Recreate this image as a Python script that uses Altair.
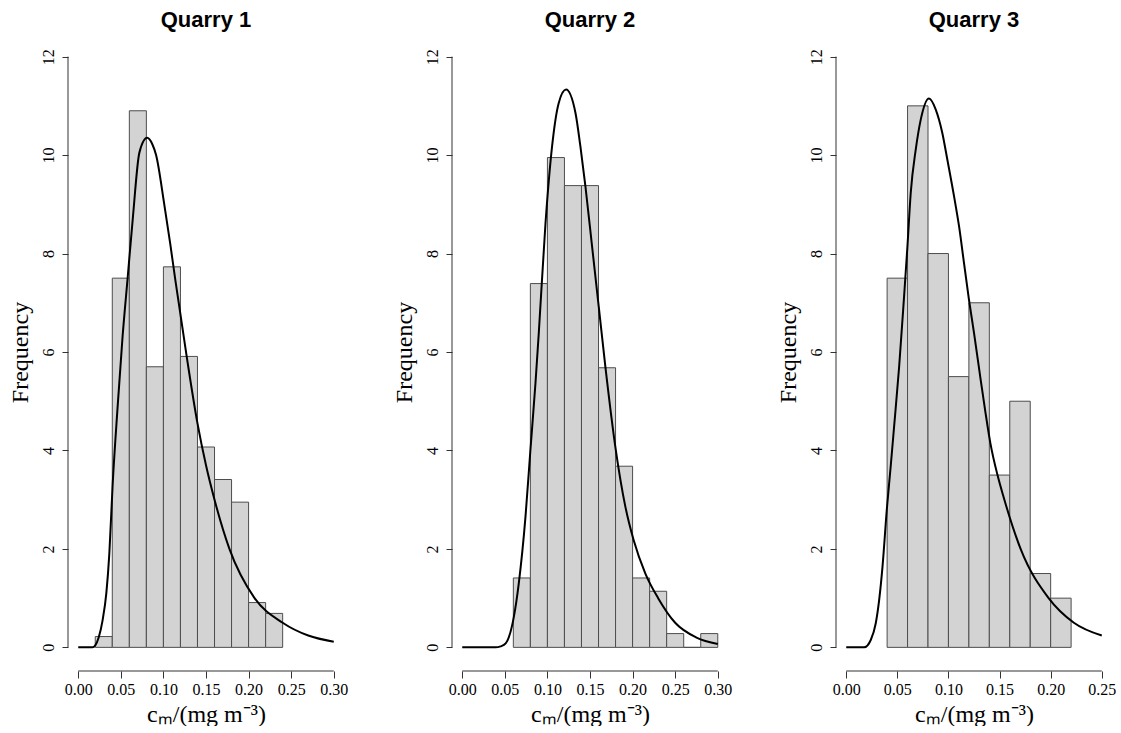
import altair as alt
import pandas as pd

BIN_W = 0.02
Y_TICKS = [0, 2, 4, 6, 8, 10, 12]
X_TICKS_A = [0.00, 0.05, 0.10, 0.15, 0.20, 0.25, 0.30]
X_TICKS_B = [0.00, 0.05, 0.10, 0.15, 0.20, 0.25]
TITLES = ["Quarry 1", "Quarry 2", "Quarry 3"]
X_TITLE = "cₘ/(mg m⁻³)"
Y_TITLE = "Frequency"

# Quarry 1 histogram
q1_left = [0.02, 0.04, 0.06, 0.08, 0.10, 0.12, 0.14, 0.16, 0.18, 0.20, 0.22]
q1_height = [0.22, 7.5, 10.9, 5.7, 7.73, 5.91, 4.07, 3.41, 2.95, 0.91, 0.69]
# Quarry 1 fitted density curve
q1_cx = [0.0, 0.0168, 0.020, 0.024, 0.0286, 0.033, 0.0365, 0.0404, 0.0463, 0.052,
         0.058, 0.064, 0.0718, 0.0808, 0.087, 0.0914, 0.101, 0.108, 0.1141, 0.1274,
         0.140, 0.150, 0.160, 0.1775, 0.207, 0.240, 0.270, 0.300]
q1_cy = [0.0, 0.0, 0.04, 0.2, 0.55, 1.1, 1.9, 3.3, 4.9, 6.3,
         7.5, 8.7, 10.05, 10.35, 10.22, 10.0, 9.0, 8.2, 7.45, 5.9,
         4.55, 3.7, 3.0, 2.0, 1.0, 0.5, 0.24, 0.115]

# Quarry 2 histogram
q2_left = [0.06, 0.08, 0.10, 0.12, 0.14, 0.16, 0.18, 0.20, 0.22, 0.24, 0.26, 0.28]
q2_height = [1.41, 7.39, 9.95, 9.38, 9.38, 5.68, 3.68, 1.41, 1.14, 0.28, 0.0, 0.28]
q2_cx = [0.0, 0.039, 0.045, 0.051, 0.0606, 0.0664, 0.0743, 0.080, 0.086, 0.0899,
         0.0977, 0.1055, 0.1133, 0.1219, 0.1329, 0.1387, 0.1446, 0.1524, 0.1602, 0.1680,
         0.1797, 0.1915, 0.2012, 0.215, 0.230, 0.250, 0.275, 0.300]
q2_cy = [0.0, 0.0, 0.02, 0.08, 0.62, 1.3, 2.66, 4.0, 5.37, 6.39,
         8.6, 10.18, 11.06, 11.33, 10.86, 10.18, 9.37, 8.15, 6.93, 5.71,
         4.08, 2.86, 2.18, 1.5, 1.0, 0.5, 0.2, 0.07]

# Quarry 3 histogram
q3_left = [0.04, 0.06, 0.08, 0.10, 0.12, 0.14, 0.16, 0.18, 0.20]
q3_height = [7.5, 11.0, 8.0, 5.5, 7.0, 3.5, 5.0, 1.5, 1.0]
q3_cx = [0.0, 0.0176, 0.024, 0.0289, 0.0322, 0.0355, 0.0397, 0.0436, 0.0469, 0.0518,
         0.0566, 0.0599, 0.0631, 0.068, 0.0729, 0.081, 0.0875, 0.094, 0.0989, 0.1055,
         0.1104, 0.1152, 0.1201, 0.125, 0.1315, 0.1363, 0.141, 0.148, 0.154, 0.1706,
         0.198, 0.2227, 0.250]
q3_cy = [0.0, 0.0, 0.15, 0.49, 0.96, 1.64, 2.8, 3.7, 4.5, 5.71,
         7.13, 8.15, 9.23, 10.11, 10.72, 11.15, 10.93, 10.45, 9.91, 9.16,
         8.55, 7.81, 7.06, 6.39, 5.44, 4.76, 4.15, 3.5, 3.05, 2.0,
         1.0, 0.5, 0.24]

SERIF = "Liberation Serif"
SANS = "Liberation Sans"


def panel(title, lefts, heights, cx, cy, xticks):
    xmax = xticks[-1]
    pad_x = 0.04 * xmax
    ymin, ymax = -0.48, 12.48
    bars = pd.DataFrame({"x": lefts, "x2": [l + BIN_W for l in lefts],
                         "y": [0.0] * len(lefts), "y2": heights})
    curve = pd.DataFrame({"x": cx, "y": cy})
    xrule = pd.DataFrame({"x": [xticks[0]], "x2": [xmax], "y": [ymin]})
    yrule = pd.DataFrame({"x": [-pad_x], "y": [Y_TICKS[0]], "y2": [Y_TICKS[-1]]})

    xs = alt.Scale(domain=[-pad_x, xmax + pad_x], nice=False, zero=False)
    ys = alt.Scale(domain=[ymin, ymax], nice=False, zero=False)
    xaxis = alt.Axis(values=xticks, format=".2f", domain=False, grid=False,
                     tickSize=7, tickColor="#333333", labelFontSize=16,
                     labelPadding=3, title=X_TITLE, titleFontSize=24,
                     titlePadding=5, labelFont=SERIF, titleFont=SERIF,
                     titleFontWeight="normal", labelColor="black", titleColor="black")
    yaxis = alt.Axis(values=Y_TICKS, domain=False, grid=False, tickSize=6,
                     tickColor="#333333", labelFontSize=16, labelAngle=270,
                     labelAlign="center", labelBaseline="bottom", labelPadding=6,
                     title=Y_TITLE, titleFontSize=24, titlePadding=8,
                     labelFont=SERIF, titleFont=SERIF, titleFontWeight="normal",
                     labelColor="black", titleColor="black")
    X = alt.X("x:Q", scale=xs, axis=xaxis)
    Y = alt.Y("y:Q", scale=ys, axis=yaxis)

    rect = alt.Chart(bars).mark_rect(fill="#d3d3d3", stroke="#4d4d4d", strokeWidth=1).encode(
        x=X, x2="x2:Q", y=Y, y2="y2:Q")
    line = alt.Chart(curve).mark_line(color="black", strokeWidth=2,
                                      interpolate="monotone").encode(x=X, y=Y)
    xr = alt.Chart(xrule).mark_rule(color="#333333", strokeWidth=1).encode(x=X, x2="x2:Q", y=Y)
    yr = alt.Chart(yrule).mark_rule(color="#333333", strokeWidth=1).encode(x=X, y=Y, y2="y2:Q")
    return alt.layer(rect, line, xr, yr).properties(
        width=276, height=638,
        title=alt.TitleParams(title, font=SANS, fontSize=22, fontWeight="bold",
                              anchor="middle", frame="group", offset=1, color="black"))


p1 = panel(TITLES[0], q1_left, q1_height, q1_cx, q1_cy, X_TICKS_A)
p2 = panel(TITLES[1], q2_left, q2_height, q2_cx, q2_cy, X_TICKS_A)
p3 = panel(TITLES[2], q3_left, q3_height, q3_cx, q3_cy, X_TICKS_B)

chart = alt.hconcat(p1, p2, p3, spacing=44).properties(
    padding={"left": 8, "top": 9, "right": 0, "bottom": 0}
).configure(background="white", view=alt.ViewConfig(stroke="transparent", strokeWidth=0))

chart.save("out.html", embed_options={"renderer": "svg", "actions": False})
